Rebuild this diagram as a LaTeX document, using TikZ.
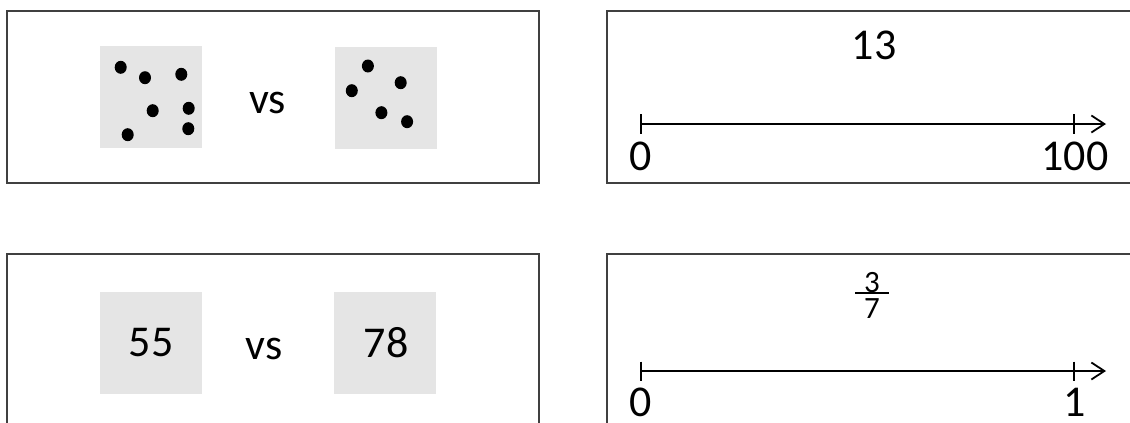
\documentclass[tikz,border=0pt]{standalone}
\usepackage{fontspec}
\setmainfont{Carlito}
\usetikzlibrary{arrows.meta}

\begin{document}
\begin{tikzpicture}[x=1pt, y=-1pt,
	every node/.style={font=\fontsize{44}{52}\selectfont, inner sep=0pt},
	panel/.style={draw=black!75, line width=1.3pt, minimum width=532pt, minimum height=172pt},
	card/.style={fill=black!10, minimum width=102pt, minimum height=102pt},
	axis/.style={line width=1.8pt, -{Straight Barb[length=13pt, width=17pt]}},
	tickmark/.style={line width=1.8pt}]
	\path[use as bounding box, clip] (0,0) rectangle (1130,423);
	% panels
	\node[panel] (dotsP) at (273,97) {};
	\node[panel] (lineP) at (873,97) {};
	\node[panel] (numsP) at (273,340) {};
	\node[panel] (fracP) at (873,340) {};
	% dots vs dots
	\node[card] (dotsL) at (151,96.5) {};
	\node[card] (dotsR) at (385.5,97.5) {};
	\node (vsA) at (267.5,102.5) {vs};
	\foreach \x/\y in {120.7/67.3, 145/77.7, 181.3/74.3, 152.7/110.7, 188.7/108.3, 188.3/128.7, 127.7/134.7,
		367.9/66, 400.7/82.7, 351.8/90.7, 381.4/112.7, 407.1/121.7}
		\fill (\x,\y) ellipse [x radius=6pt, y radius=6.5pt];
	% numbers vs numbers
	\node[card] (numsL) at (151,343) {};
	\node[card] (numsR) at (385,343) {};
	\node (fiftyfive) at (151,342.5) {55};
	\node (vsB) at (264,349) {vs};
	\node (seventyeight) at (386,342.5) {78};
	% number line 0--100
	\node (thirteen) at (874,45.5) {13};
	\coordinate (zeroA) at (641,124);
	\coordinate (hundA) at (1074,124);
	\coordinate (tipA) at (1106,124);
	\draw[axis] (zeroA) -- (tipA);
	\foreach \c in {zeroA, hundA}
		\draw[tickmark] ([yshift=10pt]\c) -- ([yshift=-10pt]\c);
	\node (zeroLabA) at (641,156.5) {0};
	\node (hundLabA) at (1075,156.5) {100};
	% number line 0--1
	\node[font=\fontsize{31}{36}\selectfont] (numF) at (872,282.5) {3};
	\node[font=\fontsize{31}{36}\selectfont] (denF) at (872,308.5) {7};
	\draw[line width=1.3pt] (855,293) -- (889,293);
	\coordinate (zeroB) at (641,371);
	\coordinate (oneB) at (1074,371);
	\coordinate (tipB) at (1106,371);
	\draw[axis] (zeroB) -- (tipB);
	\foreach \c in {zeroB, oneB}
		\draw[tickmark] ([yshift=9.5pt]\c) -- ([yshift=-9.5pt]\c);
	\node (zeroLabB) at (641,402.5) {0};
	\node (oneLabB) at (1075,402.5) {1};
\end{tikzpicture}
\end{document}
